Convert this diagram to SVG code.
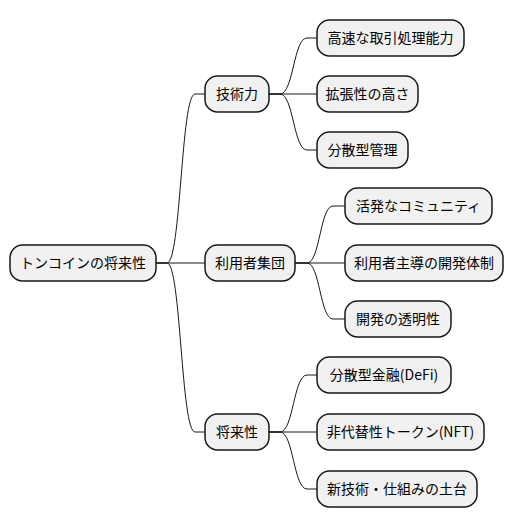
<svg xmlns="http://www.w3.org/2000/svg" width="516" height="527" viewBox="0 0 516 527">
<style>
.box{fill:#F1F1F1;stroke:#181818;stroke-width:1.5}
.t{font-family:"Noto Sans CJK JP","Noto Sans",sans-serif;font-size:14px;fill:#000;text-anchor:middle}
.c{fill:none;stroke:#181818;stroke-width:1}
</style>
<rect width="516" height="527" fill="#FFFFFF"/>
<g id="connectors">
<path class="c" d="M156,263 L167,263 C181,263 181,94 195,94 L205,94"/>
<path class="c" d="M156,263 L205,263"/>
<path class="c" d="M156,263 L167,263 C181,263 181,432 195,432 L205,432"/>
<path class="c" d="M269,94 L280,94 C293.5,94 293.5,38 307,38 L317,38"/>
<path class="c" d="M269,94 L317,94"/>
<path class="c" d="M269,94 L280,94 C293.5,94 293.5,150 307,150 L317,150"/>
<path class="c" d="M295,263 L307,263 C320,263 320,206 333,206 L345,206"/>
<path class="c" d="M295,263 L345,263"/>
<path class="c" d="M295,263 L307,263 C320,263 320,319 333,319 L345,319"/>
<path class="c" d="M269,432 L280,432 C293.5,432 293.5,375 307,375 L317,375"/>
<path class="c" d="M269,432 L317,432"/>
<path class="c" d="M269,432 L280,432 C293.5,432 293.5,489 307,489 L317,489"/>
</g>
<g id="root"><rect class="box" x="10" y="245" width="146" height="36" rx="12.5"/><text class="t" x="83" y="268">トンコインの将来性</text></g>
<g id="tech"><rect class="box" x="205" y="76" width="64" height="36" rx="12.5"/><text class="t" x="237" y="99">技術力</text></g>
<g id="users"><rect class="box" x="205" y="245" width="90" height="36" rx="12.5"/><text class="t" x="250" y="268">利用者集団</text></g>
<g id="future"><rect class="box" x="205" y="414" width="64" height="36" rx="12.5"/><text class="t" x="237" y="437">将来性</text></g>
<g id="tech1"><rect class="box" x="317" y="20" width="147" height="36" rx="12.5"/><text class="t" x="390.5" y="43">高速な取引処理能力</text></g>
<g id="tech2"><rect class="box" x="317" y="76" width="101" height="36" rx="12.5"/><text class="t" x="367.5" y="99">拡張性の高さ</text></g>
<g id="tech3"><rect class="box" x="317" y="132" width="91" height="36" rx="12.5"/><text class="t" x="362.5" y="155">分散型管理</text></g>
<g id="users1"><rect class="box" x="345" y="188" width="147" height="36" rx="12.5"/><text class="t" x="418.5" y="211">活発なコミュニティ</text></g>
<g id="users2"><rect class="box" x="345" y="245" width="158" height="36" rx="12.5"/><text class="t" x="424" y="268">利用者主導の開発体制</text></g>
<g id="users3"><rect class="box" x="345" y="301" width="106" height="36" rx="12.5"/><text class="t" x="398" y="324">開発の透明性</text></g>
<g id="future1"><rect class="box" x="317" y="357" width="134" height="36" rx="12.5"/><text class="t" x="384" y="380">分散型金融(DeFi)</text></g>
<g id="future2"><rect class="box" x="317" y="414" width="167" height="36" rx="12.5"/><text class="t" x="400.5" y="437">非代替性トークン(NFT)</text></g>
<g id="future3"><rect class="box" x="317" y="471" width="160" height="36" rx="12.5"/><text class="t" x="397" y="494">新技術・仕組みの土台</text></g>
</svg>
